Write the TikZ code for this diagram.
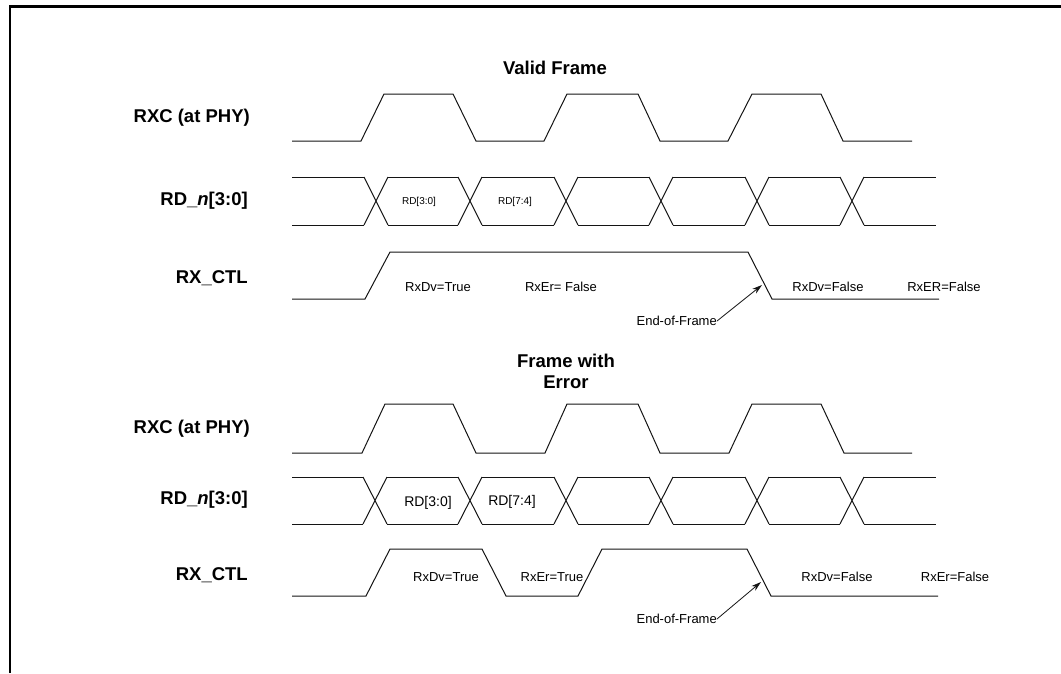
\documentclass[tikz,border=0pt]{standalone}
\usepackage{fontspec}
\setmainfont{Liberation Sans}
\usetikzlibrary{arrows.meta}
\definecolor{mydark}{RGB}{20,20,20}
\tikzset{
  wave/.style={line width=1pt, color=mydark},
  siglabel/.style={anchor=east, inner sep=0pt,
    font=\fontsize{18.5}{22}\selectfont\bfseries},
  title/.style={align=center, inner sep=0pt,
    font=\fontsize{18.5}{21}\selectfont\bfseries},
  note/.style={inner sep=0pt, font=\fontsize{13}{15}\selectfont},
  smallnote/.style={inner sep=0pt, font=\fontsize{10}{12}\selectfont},
  arrow/.style={-{Stealth[length=10pt, width=6pt]}, line width=0.8pt, color=mydark}
}

\begin{document}
\begin{tikzpicture}[x=1pt, y=-1pt]
  \useasboundingbox (0,0) rectangle (1061,673);
  \draw[line width=2.5pt] (10,673) -- (10,6.5) -- (1061,6.5);

  % valid frame
  \node[title] (ttl1) at (555,68) {Valid Frame};
  \node[siglabel] (rxc1) at (250,118) {RXC (at PHY)};
  \node[siglabel] (rdn1) at (248,201) {RD\_\textit{n}[3:0]};
  \node[siglabel] (ctl1) at (248,278) {RX\_CTL};

  \draw[wave] (292,141) -- (361,141) -- (384,94) -- (453,94) -- (476,141) -- (544,141)
    -- (567,94) -- (638,94) -- (660,141) -- (728,141) -- (752,94) -- (821,94)
    -- (843,141) -- (912,141);

  \foreach \c in {376,470,566,661,757,852}
    \draw[wave] (\c-12,177) -- (\c+12,225) (\c-12,225) -- (\c+12,177);
  \foreach \a/\b in {292/364, 388/458, 482/554, 578/649, 673/745, 769/840, 864/936}
    \draw[wave] (\a,177) -- (\b,177) (\a,225) -- (\b,225);
  \node[smallnote] (lo1) at (419,202) {RD[3:0]};
  \node[smallnote] (hi1) at (515,202) {RD[7:4]};

  \draw[wave] (292,299) -- (365,299) -- (390,252) -- (748,252) -- (772,299) -- (939,299);
  \node[note] (dv1) at (438,287) {RxDv=True};
  \node[note] (er1) at (561,287) {RxEr= False};
  \node[note] (dvf1) at (828,287) {RxDv=False};
  \node[note] (erf1) at (944,287) {RxER=False};

  \node[note, anchor=east] (eof1) at (717,321) {End-of-Frame};
  \coordinate (tip1) at (762,285);
  \draw[arrow] (eof1.east) -- (tip1);

  % frame with error
  \node[title] (ttl2) at (566,371.5) {Frame with\\Error};
  \node[siglabel] (rxc2) at (250,429) {RXC (at PHY)};
  \node[siglabel] (rdn2) at (248,500) {RD\_\textit{n}[3:0]};
  \node[siglabel] (ctl2) at (248,575) {RX\_CTL};

  \draw[wave] (292,453) -- (362,453) -- (385,404) -- (453,404) -- (476,453) -- (545,453)
    -- (567,404) -- (638,404) -- (660,453) -- (729,453) -- (752,404) -- (821,404)
    -- (844,453) -- (912,453);

  \foreach \c in {375,470,566,661,757,852}
    \draw[wave] (\c-12,477) -- (\c+12,524) (\c-12,524) -- (\c+12,477);
  \foreach \a/\b in {292/363, 387/458, 482/554, 578/649, 673/745, 769/840, 864/936}
    \draw[wave] (\a,477) -- (\b,477) (\a,524) -- (\b,524);
  \node[note, font=\fontsize{14}{16}\selectfont] (lo2) at (428,503) {RD[3:0]};
  \node[note, font=\fontsize{14}{16}\selectfont] (hi2) at (512,502) {RD[7:4]};

  \draw[wave] (292,596) -- (366,596) -- (390,549) -- (482,549) -- (506,596) -- (578,596)
    -- (602,549) -- (747,549) -- (771,596) -- (938,596);
  \node[note] (dv2) at (446,577) {RxDv=True};
  \node[note] (er2) at (552,577) {RxEr=True};
  \node[note] (dvf2) at (837,577) {RxDv=False};
  \node[note] (erf2) at (955,577) {RxEr=False};

  \node[note, anchor=east] (eof2) at (717,619) {End-of-Frame};
  \coordinate (tip2) at (761,582);
  \draw[arrow] (eof2.east) -- (tip2);
\end{tikzpicture}
\end{document}
